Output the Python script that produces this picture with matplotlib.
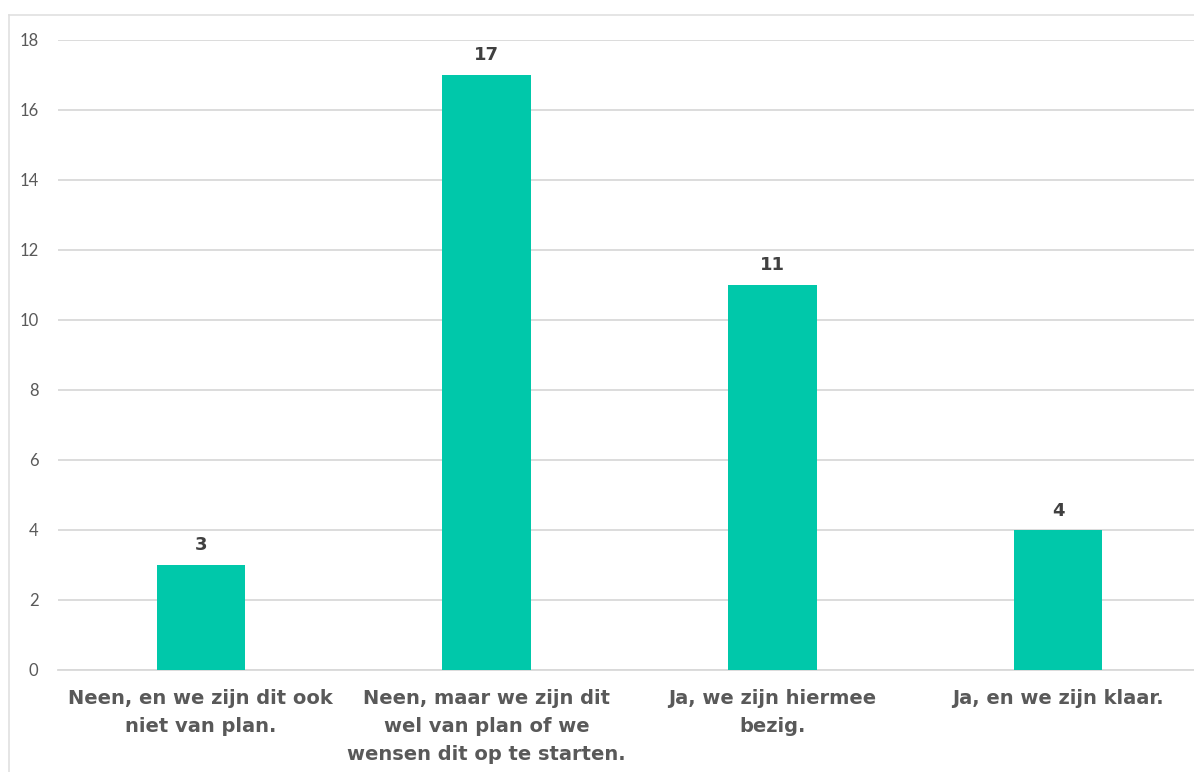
import matplotlib.pyplot as plt
from matplotlib.lines import Line2D

categories = ['Neen, en we zijn dit ook\nniet van plan.',
              'Neen, maar we zijn dit\nwel van plan of we\nwensen dit op te starten.',
              'Ja, we zijn hiermee\nbezig.',
              'Ja, en we zijn klaar.']
values = [3, 17, 11, 4]
yticks = [0, 2, 4, 6, 8, 10, 12, 14, 16, 18]

plt.rcParams['font.family'] = ['Lato', 'DejaVu Sans']

fig = plt.figure(figsize=(11.94, 7.72), dpi=100)
ax = fig.add_axes([58 / 1194, 102 / 772, 1143 / 1194, 630 / 772])

x = list(range(len(values)))
ax.bar(x, values, width=0.31, color='#00C8AA', zorder=3)
for xi, v in zip(x, values):
    ax.text(xi, v + 0.3, str(v), ha='center', va='bottom',
            fontsize=13, fontweight='bold', color='#404040',
            family=['DejaVu Sans'])

ax.set_xlim(-0.5, 3.5)
ax.set_ylim(0, 18)
ax.set_yticks(yticks)
ax.set_xticks(x)
ax.set_xticklabels(categories, fontsize=14, fontweight='bold', color='#595959',
                   linespacing=1.6, family=['DejaVu Sans'])
ax.tick_params(axis='y', labelsize=12, labelcolor='#595959', length=0, pad=14)
ax.tick_params(axis='x', length=0, pad=14)
ax.grid(axis='y', color='#d9d9d9', linewidth=1.3, zorder=0)
for s in ['top', 'right', 'left']:
    ax.spines[s].set_visible(False)
ax.spines['bottom'].set_color('#d9d9d9')
ax.spines['bottom'].set_linewidth(1.3)

# outer frame of the chart area (top and left edges visible)
fig.add_artist(Line2D([9 / 1194, 1], [1 - 15 / 772, 1 - 15 / 772],
                      color='#e0e0e0', linewidth=1.2))
fig.add_artist(Line2D([9 / 1194, 9 / 1194], [0, 1 - 15 / 772],
                      color='#e0e0e0', linewidth=1.2))

fig.savefig('out.png', dpi=100)
